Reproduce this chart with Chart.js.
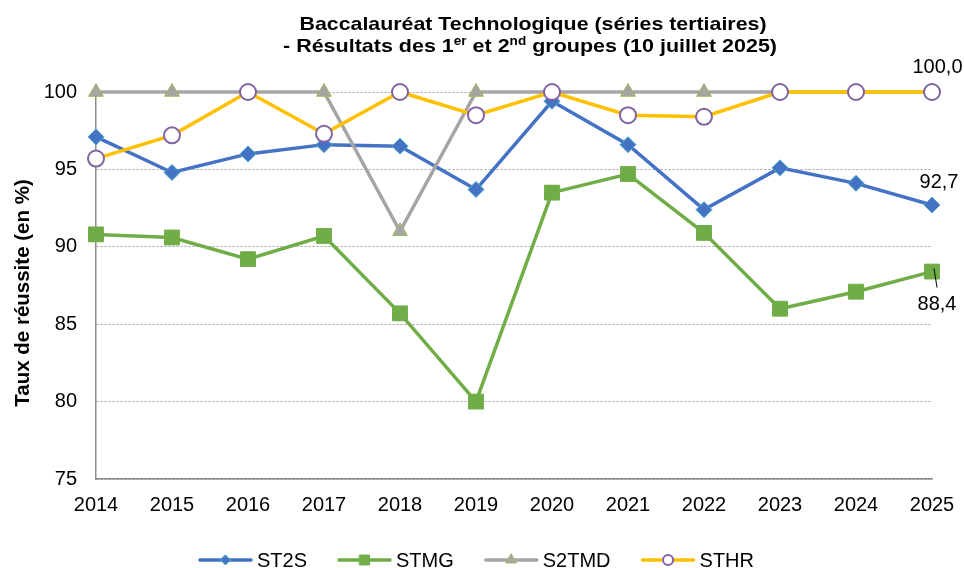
<!DOCTYPE html>
<html>
<head>
<meta charset="utf-8">
<script src="https://cdn.jsdelivr.net/npm/chart.js@4/dist/chart.umd.min.js"></script>
<style>
  html, body { margin: 0; padding: 0; background: #ffffff; }
  #wrap { width: 964px; height: 568px; position: relative; }
</style>
</head>
<body>
<div id="wrap"><canvas id="c" width="964" height="568"></canvas></div>
<script>
const years = ['2014','2015','2016','2017','2018','2019','2020','2021','2022','2023','2024','2025'];
const seriesNames = ['ST2S', 'STMG', 'S2TMD', 'STHR'];
const st2s  = [97.1, 94.8, 96.0, 96.6, 96.5, 93.7, 99.4, 96.6, 92.4, 95.1, 94.1, 92.7];
const stmg  = [90.8, 90.6, 89.2, 90.7, 85.7, 80.0, 93.5, 94.7, 90.9, 86.0, 87.1, 88.4];
const s2tmd = [100, 100, 100, 100, 91.0, 100, 100, 100, 100, 100, 100, 100];
const sthr  = [95.7, 97.2, 100, 97.3, 100, 98.5, 100, 98.5, 98.4, 100, 100, 100];
const yMin = 75, yMax = 100, yStep = 5;
const titleLine1 = 'Baccalauréat Technologique (séries tertiaires)';
const titleLine2 = [['- Résultats des 1', false], ['er', true], [' et 2', false], ['nd', true], [' groupes (10 juillet 2025)', false]];
const yTitle = 'Taux de réussite (en %)';

const FONT = '"Liberation Sans", Arial, Helvetica, sans-serif';

const styles = [
  { color: '#4472C4', pointStyle: 'rectRot', radius: 8, fill: '#4472C4', border: '#4BACC6', bw: 1 },
  { color: '#70AD47', pointStyle: 'rect', radius: 10.5, fill: '#70AD47', border: '#70AD47', bw: 1 },
  { color: '#A5A5A5', pointStyle: 'triangle', radius: 8.5, fill: '#A5A5A5', border: '#9BBB59', bw: 1 },
  { color: '#FFC000', pointStyle: 'circle', radius: 8, fill: '#FFFFFF', border: '#8064A2', bw: 2 }
];
const seriesData = [st2s, stmg, s2tmd, sthr];

function fmt(v) { return v.toFixed(1).replace('.', ','); }

function drawMarker(ctx, style, x, y, r) {
  ctx.save();
  ctx.fillStyle = style.fill;
  ctx.strokeStyle = style.border;
  ctx.lineWidth = style.bw;
  ctx.beginPath();
  if (style.pointStyle === 'rectRot') {
    ctx.moveTo(x, y - r); ctx.lineTo(x + r, y); ctx.lineTo(x, y + r); ctx.lineTo(x - r, y); ctx.closePath();
  } else if (style.pointStyle === 'rect') {
    const s = r * Math.SQRT1_2;
    ctx.rect(x - s, y - s, 2 * s, 2 * s);
  } else if (style.pointStyle === 'triangle') {
    ctx.moveTo(x, y - r);
    ctx.lineTo(x + r * Math.sin(Math.PI * 2 / 3), y - r * Math.cos(Math.PI * 2 / 3));
    ctx.lineTo(x - r * Math.sin(Math.PI * 2 / 3), y - r * Math.cos(Math.PI * 2 / 3));
    ctx.closePath();
  } else {
    ctx.arc(x, y, r, 0, Math.PI * 2);
  }
  ctx.fill();
  ctx.stroke();
  ctx.restore();
}

const titlePlugin = {
  id: 'customTitle',
  afterDraw(chart) {
    const ctx = chart.ctx;
    ctx.save();
    ctx.fillStyle = '#000';
    ctx.textBaseline = 'alphabetic';
    ctx.textAlign = 'left';
    const big = 'bold 19px ' + FONT, small = 'bold 12px ' + FONT;
    // line 1
    ctx.font = big;
    const w1 = ctx.measureText(titleLine1).width;
    const target1 = 467, cx1 = 533;
    ctx.save();
    ctx.translate(cx1 - target1 / 2, 30);
    ctx.scale(target1 / w1, 1);
    ctx.fillText(titleLine1, 0, 0);
    ctx.restore();
    // line 2
    let total = 0;
    titleLine2.forEach(([t, sup]) => { ctx.font = sup ? small : big; total += ctx.measureText(t).width; });
    const target2 = 494, cx2 = 530;
    ctx.save();
    ctx.translate(cx2 - target2 / 2, 52);
    ctx.scale(target2 / total, 1);
    let x = 0;
    titleLine2.forEach(([t, sup]) => {
      ctx.font = sup ? small : big;
      ctx.fillText(t, x, sup ? -7 : 0);
      x += ctx.measureText(t).width;
    });
    ctx.restore();
    // y axis title
    ctx.save();
    ctx.font = 'bold 20.5px ' + FONT;
    ctx.textAlign = 'center';
    ctx.textBaseline = 'middle';
    ctx.translate(23, 293);
    ctx.rotate(-Math.PI / 2);
    ctx.fillText(yTitle, 0, 0);
    ctx.restore();
    ctx.restore();
  }
};

const legendPlugin = {
  id: 'customLegend',
  afterDraw(chart) {
    const ctx = chart.ctx;
    ctx.save();
    ctx.font = '20px ' + FONT;
    const lineLen = 55, gapText = 4, gapItem = 30, y = 560;
    const widths = seriesNames.map(n => ctx.measureText(n).width);
    const total = widths.reduce((a, w) => a + lineLen + gapText + w, 0) + gapItem * (seriesNames.length - 1);
    let x = 476 - total / 2;
    seriesNames.forEach((n, i) => {
      const st = styles[i];
      ctx.strokeStyle = st.color;
      ctx.lineWidth = 3.5;
      ctx.lineCap = 'round';
      ctx.beginPath(); ctx.moveTo(x + 2, y); ctx.lineTo(x + lineLen - 2, y); ctx.stroke();
      const lr = st.pointStyle === 'rect' ? 7 : (st.pointStyle === 'triangle' ? 6 : 5);
      drawMarker(ctx, st, x + lineLen / 2, y, lr);
      ctx.fillStyle = '#000';
      ctx.textBaseline = 'middle';
      ctx.textAlign = 'left';
      ctx.fillText(n, x + lineLen + gapText, y + 1);
      x += lineLen + gapText + widths[i] + gapItem;
    });
    ctx.restore();
  }
};

const labelPlugin = {
  id: 'endLabels',
  afterDatasetsDraw(chart) {
    const ctx = chart.ctx;
    const xs = chart.scales.x, ys = chart.scales.y;
    const last = years.length - 1;
    const px = xs.getPixelForValue(last);
    ctx.save();
    ctx.font = '20px ' + FONT;
    ctx.fillStyle = '#000';
    ctx.textAlign = 'center';
    ctx.textBaseline = 'middle';
    ctx.fillText(fmt(sthr[last]), px + 5.5, ys.getPixelForValue(sthr[last]) - 25);
    ctx.fillText(fmt(st2s[last]), px + 7, ys.getPixelForValue(st2s[last]) - 23);
    const py = ys.getPixelForValue(stmg[last]);
    ctx.fillText(fmt(stmg[last]), px + 5, py + 33);
    ctx.strokeStyle = '#000';
    ctx.lineWidth = 1;
    ctx.beginPath(); ctx.moveTo(px + 2, py - 3); ctx.lineTo(px + 5, py + 16); ctx.stroke();
    ctx.restore();
  }
};

const datasets = seriesNames.map((n, i) => ({
  label: n,
  data: seriesData[i],
  borderColor: styles[i].color,
  backgroundColor: styles[i].color,
  borderWidth: 3.5,
  tension: 0,
  pointStyle: styles[i].pointStyle,
  pointRadius: styles[i].radius,
  pointHoverRadius: styles[i].radius,
  pointBackgroundColor: styles[i].fill,
  pointBorderColor: styles[i].border,
  pointBorderWidth: styles[i].bw,
  clip: false,
  order: seriesNames.length - i
}));

new Chart(document.getElementById('c'), {
  type: 'line',
  data: { labels: years, datasets },
  options: {
    responsive: false,
    animation: false,
    events: [],
    layout: { padding: { top: 92, right: 32, left: 0, bottom: 0 } },
    plugins: { legend: { display: false }, title: { display: false }, tooltip: { enabled: false } },
    scales: {
      x: {
        type: 'category',
        offset: false,
        grid: { display: false, drawTicks: true, tickLength: 5 },
        border: { display: true, color: '#8c8c8c', width: 1.5 },
        ticks: { color: '#000', font: { family: FONT, size: 20 }, padding: 9, maxRotation: 0, autoSkip: false },
        afterFit(scale) { scale.height = 89; }
      },
      y: {
        min: yMin, max: yMax,
        grid: { color: '#a0a0a0', lineWidth: 1, drawTicks: false },
        border: { display: true, color: '#8c8c8c', width: 1.5, dash: [2, 2] },
        ticks: { stepSize: yStep, color: '#000', font: { family: FONT, size: 20 }, padding: 19 },
        title: { display: false },
        afterFit(scale) { scale.width = 96; }
      }
    }
  },
  plugins: [titlePlugin, legendPlugin, labelPlugin]
});
</script>
</body>
</html>
